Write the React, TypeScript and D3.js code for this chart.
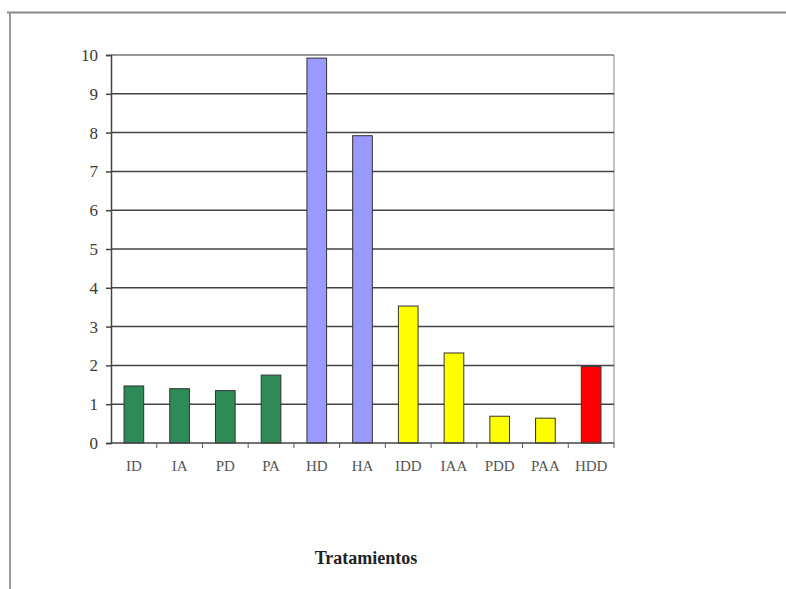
import React, { useEffect, useRef } from 'react';
import * as d3 from 'd3';

const categories = ['ID', 'IA', 'PD', 'PA', 'HD', 'HA', 'IDD', 'IAA', 'PDD', 'PAA', 'HDD'];
const values = [1.47, 1.4, 1.35, 1.75, 9.92, 7.92, 3.53, 2.32, 0.69, 0.64, 1.97];
const groups = ['g', 'g', 'g', 'g', 'b', 'b', 'y', 'y', 'y', 'y', 'r'];
const yTicks = [0, 1, 2, 3, 4, 5, 6, 7, 8, 9, 10];
const groupColors: Record<string, string> = { g: '#2e8b57', b: '#9999ff', y: '#ffff00', r: '#ff0000' };

const App = () => {
  const svgRef = useRef<SVGSVGElement>(null);

  useEffect(() => {
    const svg = d3.select(svgRef.current);
    svg.selectAll('*').remove();

    const left = 111, right = 614, top = 55, bottom = 443;

    // outer frame (top and left edges only)
    svg.append('line').attr('x1', 7).attr('x2', 786).attr('y1', 12.5).attr('y2', 12.5)
      .attr('stroke', '#8a8a8a').attr('stroke-width', 2);
    svg.append('line').attr('x1', 10).attr('x2', 10).attr('y1', 12).attr('y2', 589)
      .attr('stroke', '#9a9a9a').attr('stroke-width', 2);

    const x = d3.scaleBand().domain(categories).range([left, right]).padding(0);
    const y = d3.scaleLinear().domain([0, 10]).range([bottom, top]);

    // right border of plot
    svg.append('line').attr('x1', right).attr('x2', right).attr('y1', top).attr('y2', bottom)
      .attr('stroke', '#b0b0b0').attr('stroke-width', 1.5);

    // gridlines
    svg.append('g').selectAll('line').data(yTicks.filter(t => t > 0)).enter().append('line')
      .attr('x1', left).attr('x2', right)
      .attr('y1', d => y(d)).attr('y2', d => y(d))
      .attr('stroke', d => d === 10 ? '#777' : '#444').attr('stroke-width', 1.5);

    // bars
    const bw = x.bandwidth() * 0.43;
    svg.append('g').selectAll('rect').data(values).enter().append('rect')
      .attr('x', (d, i) => x(categories[i])! + (x.bandwidth() - bw) / 2)
      .attr('y', d => y(d))
      .attr('width', bw)
      .attr('height', d => y(0) - y(d))
      .attr('fill', (d, i) => groupColors[groups[i]])
      .attr('stroke', '#333').attr('stroke-width', 1);

    // y axis
    const ya = svg.append('g').attr('transform', `translate(${left},0)`)
      .call(d3.axisLeft(y).tickValues(yTicks).tickSize(5).tickPadding(8).tickFormat(d3.format('d')));
    ya.select('.domain').attr('stroke', '#444').attr('stroke-width', 1.5);
    ya.selectAll('line').attr('stroke', '#444').attr('stroke-width', 1.5);
    ya.selectAll('text').attr('font-family', '"Liberation Serif", serif').attr('font-size', 17).attr('fill', '#3a3a3a');

    // x axis
    const xa = svg.append('g').attr('transform', `translate(0,${bottom})`);
    xa.append('line').attr('x1', left).attr('x2', right).attr('stroke', '#444').attr('stroke-width', 1.5);
    xa.selectAll('.tk').data(categories.slice(1).concat(['end'])).enter().append('line')
      .attr('class', 'tk')
      .attr('x1', (d, i) => left + x.step() * (i + 1)).attr('x2', (d, i) => left + x.step() * (i + 1))
      .attr('y1', 0).attr('y2', 5).attr('stroke', '#555').attr('stroke-width', 1);
    xa.selectAll('text').data(categories).enter().append('text')
      .attr('x', d => x(d)! + x.bandwidth() / 2)
      .attr('y', 28)
      .attr('text-anchor', 'middle')
      .attr('font-family', '"Liberation Serif", serif')
      .attr('font-size', 15)
      .attr('fill', '#555')
      .text(d => d);

    // axis title
    svg.append('text')
      .attr('x', 366).attr('y', 564)
      .attr('text-anchor', 'middle')
      .attr('font-family', '"Liberation Serif", serif')
      .attr('font-weight', 'bold')
      .attr('font-size', 18)
      .attr('fill', '#222')
      .text('Tratamientos');
  }, []);

  return (
    <svg ref={svgRef} width={786} height={589}
      style={{ position: 'absolute', left: 0, top: 0, background: '#fff' }}></svg>
  );
};

export default App;
